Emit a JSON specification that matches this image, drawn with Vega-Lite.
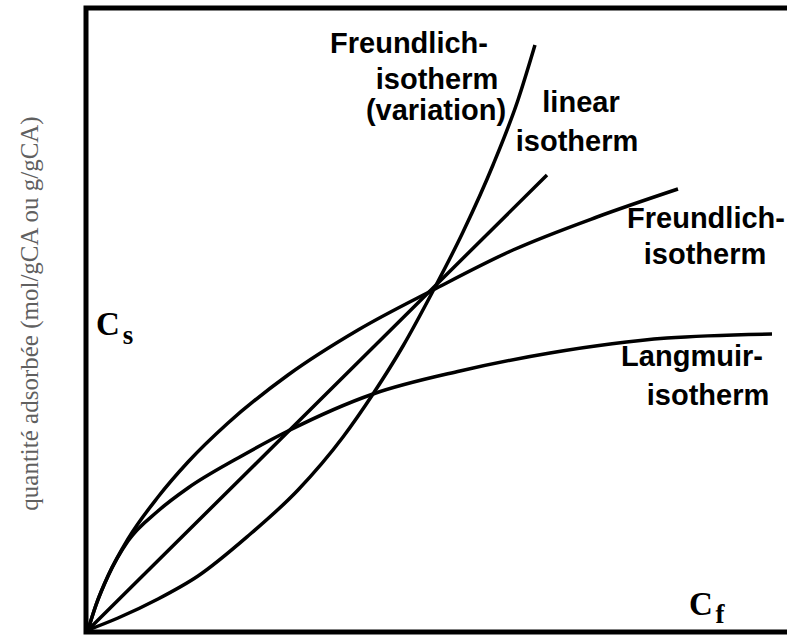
{
  "$schema": "https://vega.github.io/schema/vega-lite/v6.json",
  "width": 704,
  "height": 624,
  "autosize": {"type": "none"},
  "padding": {"left": 86, "top": 8, "right": 0, "bottom": 3},
  "background": "white",
  "config": {"view": {"stroke": "black", "strokeWidth": 5}},
  "datasets": {
    "curves": [
      {"curve": "linear", "x": 0, "y": 0},
      {"curve": "linear", "x": 230, "y": 228},
      {"curve": "linear", "x": 459, "y": 455},
      {"curve": "freundlich", "x": 0, "y": 0},
      {"curve": "freundlich", "x": 8, "y": 25},
      {"curve": "freundlich", "x": 20, "y": 54},
      {"curve": "freundlich", "x": 40, "y": 91},
      {"curve": "freundlich", "x": 70, "y": 133},
      {"curve": "freundlich", "x": 100, "y": 168},
      {"curve": "freundlich", "x": 140, "y": 207},
      {"curve": "freundlich", "x": 200, "y": 255},
      {"curve": "freundlich", "x": 270, "y": 300},
      {"curve": "freundlich", "x": 345, "y": 340},
      {"curve": "freundlich", "x": 425, "y": 380},
      {"curve": "freundlich", "x": 509, "y": 413},
      {"curve": "freundlich", "x": 590, "y": 441},
      {"curve": "langmuir", "x": 0, "y": 0},
      {"curve": "langmuir", "x": 8, "y": 25},
      {"curve": "langmuir", "x": 20, "y": 54},
      {"curve": "langmuir", "x": 40, "y": 89},
      {"curve": "langmuir", "x": 70, "y": 119},
      {"curve": "langmuir", "x": 100, "y": 142},
      {"curve": "langmuir", "x": 150, "y": 172},
      {"curve": "langmuir", "x": 200, "y": 199},
      {"curve": "langmuir", "x": 285, "y": 236},
      {"curve": "langmuir", "x": 372, "y": 259},
      {"curve": "langmuir", "x": 462, "y": 277},
      {"curve": "langmuir", "x": 579, "y": 292},
      {"curve": "langmuir", "x": 684, "y": 296},
      {"curve": "variation", "x": 0, "y": 0},
      {"curve": "variation", "x": 30, "y": 12},
      {"curve": "variation", "x": 70, "y": 31},
      {"curve": "variation", "x": 110, "y": 54},
      {"curve": "variation", "x": 160, "y": 94},
      {"curve": "variation", "x": 210, "y": 140},
      {"curve": "variation", "x": 255, "y": 193},
      {"curve": "variation", "x": 285, "y": 236},
      {"curve": "variation", "x": 315, "y": 284},
      {"curve": "variation", "x": 345, "y": 339},
      {"curve": "variation", "x": 375, "y": 398},
      {"curve": "variation", "x": 405, "y": 465},
      {"curve": "variation", "x": 430, "y": 530},
      {"curve": "variation", "x": 447, "y": 585}
    ],
    "labels": [
      {"text": "Freundlich-", "x": 321, "y": 586},
      {"text": "isotherm", "x": 349, "y": 550},
      {"text": "(variation)", "x": 348, "y": 519},
      {"text": "linear", "x": 493, "y": 527},
      {"text": "isotherm", "x": 489, "y": 488},
      {"text": "Freundlich-", "x": 618, "y": 411},
      {"text": "isotherm", "x": 617, "y": 375},
      {"text": "Langmuir-", "x": 604, "y": 273},
      {"text": "isotherm", "x": 620, "y": 234}
    ],
    "symbols": [
      {"text": "C", "x": 20, "y": 305},
      {"text": "C", "x": 613, "y": 25}
    ],
    "subs": [
      {"text": "s", "x": 40, "y": 294},
      {"text": "f", "x": 632, "y": 15}
    ]
  },
  "encoding": {
    "x": {
      "field": "x", "type": "quantitative",
      "scale": {"domain": [-2, 702], "nice": false, "zero": false},
      "axis": {"domain": false, "ticks": false, "labels": false, "grid": false, "title": null}
    },
    "y": {
      "field": "y", "type": "quantitative",
      "scale": {"domain": [-2, 622], "nice": false, "zero": false},
      "axis": {
        "domain": false, "ticks": false, "labels": false, "grid": false,
        "title": "quantité adsorbée (mol/gCA ou g/gCA)",
        "titleX": -57, "titleY": 305, "titleAngle": -90,
        "titleAlign": "center", "titleBaseline": "middle",
        "titleFont": "Liberation Serif", "titleFontSize": 25,
        "titleFontWeight": "normal", "titleColor": "#606060"
      }
    }
  },
  "layer": [
    {
      "data": {"name": "curves"},
      "mark": {"type": "line", "interpolate": "monotone", "color": "black", "strokeWidth": 3.5},
      "encoding": {"detail": {"field": "curve", "type": "nominal"}}
    },
    {
      "data": {"name": "labels"},
      "mark": {"type": "text", "font": "Liberation Sans", "fontWeight": "bold", "fontSize": 29, "align": "center", "baseline": "middle", "color": "black"},
      "encoding": {"text": {"field": "text", "type": "nominal"}}
    },
    {
      "data": {"name": "symbols"},
      "mark": {"type": "text", "font": "Liberation Serif", "fontWeight": "bold", "fontSize": 33, "align": "center", "baseline": "middle", "color": "black"},
      "encoding": {"text": {"field": "text", "type": "nominal"}}
    },
    {
      "data": {"name": "subs"},
      "mark": {"type": "text", "font": "Liberation Serif", "fontWeight": "bold", "fontSize": 27, "align": "center", "baseline": "middle", "color": "black"},
      "encoding": {"text": {"field": "text", "type": "nominal"}}
    }
  ]
}
